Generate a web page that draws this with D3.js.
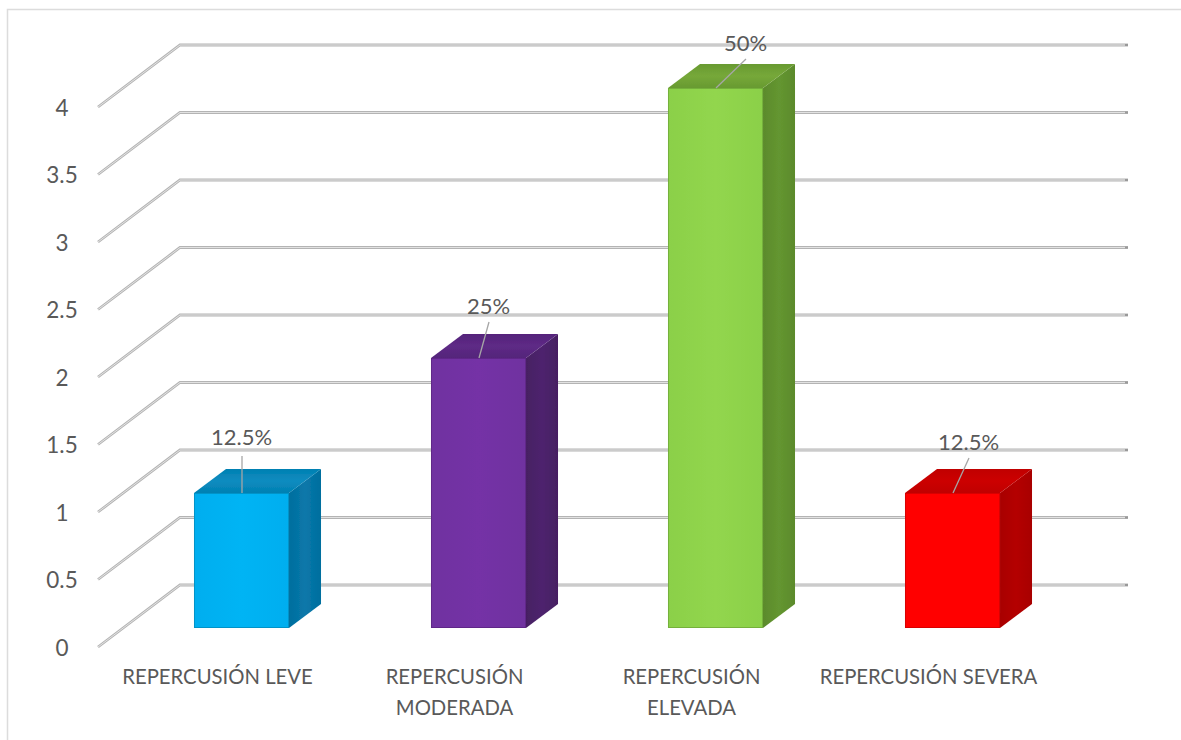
<!DOCTYPE html>
<html><head><meta charset="utf-8">
<script src="https://cdn.jsdelivr.net/npm/d3@7/dist/d3.min.js"></script>
<style>html,body{margin:0;padding:0;background:#fff}svg{display:block}text{font-family:Lato,"Open Sans",sans-serif;fill:#595959}</style>
</head><body><svg id="c" width="1181" height="740"></svg>
<script>
const categories = ["REPERCUSIÓN LEVE","REPERCUSIÓN MODERADA","REPERCUSIÓN ELEVADA","REPERCUSIÓN SEVERA"];
const values = [1,2,4,1];
const pctLabels = ["12.5%","25%","50%","12.5%"];
const yTicks = [0,0.5,1,1.5,2,2.5,3,3.5,4];
const faceColors = [
 {front:"#00aeef",light:"#04b4f4",edge:"#0493c8",side:"#006e9e",sideL:"#0a78aa",top:"#0380b2",topL:"#0b8cc0"},
 {front:"#7030a0",light:"#7432a6",edge:"#5f2888",side:"#461f62",sideL:"#4e246e",top:"#54247a",topL:"#5e2a86"},
 {front:"#8bd048",light:"#92d64e",edge:"#74b03a",side:"#5b8a2c",sideL:"#649630",top:"#689a30",topL:"#76a83a"},
 {front:"#ff0000",light:"#ff0000",edge:"#d80000",side:"#a80000",sideL:"#b40000",top:"#c00000",topL:"#cc0000"}];
const leaderEnds = [[0,-37],[10,-36],[30,-29],[16,-35]];
const labelNudge = [[-1,-3],[-1,0],[-1,0],[-1,0]];

const svg = d3.select("#c");
const W=1181;
svg.append("path").attr("d",`M7.5,740V9.5H${W}`).attr("fill","none").attr("stroke","#dcdcdc").attr("stroke-width",1.5);

const yBack = d3.scaleLinear().domain([0,4]).range([585,45]);
const yFront = d3.scaleLinear().domain([0,4]).range([647,107]);
const yBar = d3.scaleLinear().domain([0,4]).range([628,88]);
const x = d3.scaleBand().domain(categories).range([123,1071]).paddingInner(0.599).paddingOuter(0.2995);
const depthX=32, depthY=24;

const defs=svg.append("defs");
const blur=defs.append("filter").attr("id","soft").attr("x","-5%").attr("y","-5%").attr("width","110%").attr("height","110%");
blur.append("feGaussianBlur").attr("stdDeviation",0.5);
function grad(id,a,b,dir){
  const gr=defs.append("linearGradient").attr("id",id);
  if(dir==="v") gr.attr("x1",0).attr("y1",0).attr("x2",0).attr("y2",1);
  gr.append("stop").attr("offset","0").attr("stop-color",a);
  gr.append("stop").attr("offset","0.5").attr("stop-color",b);
  gr.append("stop").attr("offset","1").attr("stop-color",a);
}

const grid=svg.append("g").attr("filter","url(#soft)");
yTicks.forEach(t=>{
  const p=`M98,${yFront(t)}L180,${yBack(t)}H1128`;
  grid.append("path").attr("d",p).attr("fill","none").attr("stroke","#b4b4b4").attr("stroke-width",2.8);
  grid.append("path").attr("d",p).attr("fill","none").attr("stroke","#e8e8e8").attr("stroke-width",0.9);
  grid.append("rect").attr("x",1125).attr("y",yBack(t)-1).attr("width",3).attr("height",2).attr("fill","#999");
});

const axL=svg.append("g").attr("transform","translate(77,1)").call(d3.axisLeft(yFront).tickValues(yTicks).tickSize(0).tickFormat(d=>String(d)));
axL.select(".domain").remove();
axL.selectAll("text").attr("font-size",22.5).attr("text-anchor","middle").attr("x",-15).attr("dy","0.33em").style("fill","#595959").style("font-family","Lato");

const g=svg.append("g").attr("filter","url(#soft)");
categories.forEach((c,i)=>{
  const x0=x(c),w=x.bandwidth(),y0=yBar(0),y1=yBar(values[i]),col=faceColors[i];
  grad("f"+i,col.front,col.light);
  grad("s"+i,col.side,col.sideL);
  grad("t"+i,col.top,col.topL,"v");
  g.append("path").attr("d",`M${x0+w},${y1}l${depthX},${-depthY}V${y0-depthY}l${-depthX},${depthY}Z`).attr("fill",`url(#s${i})`);
  g.append("path").attr("d",`M${x0},${y1}l${depthX},${-depthY}H${x0+w+depthX}l${-depthX},${depthY}Z`).attr("fill",`url(#t${i})`);
  g.append("rect").attr("x",x0+.5).attr("y",y1+.5).attr("width",w-1).attr("height",y0-y1-1).attr("fill",`url(#f${i})`).attr("stroke",col.edge).attr("stroke-width",1);
  const cx=x0+w/2, [dx,dy]=leaderEnds[i], [nx,ny]=labelNudge[i];
  svg.append("line").attr("x1",cx+0.5).attr("y1",y1).attr("x2",cx+dx+0.5).attr("y2",y1+dy).attr("stroke","#a6a6a6").attr("stroke-width",1.3);
  svg.append("text").attr("x",cx+dx+nx+1).attr("y",y1+dy-8+ny).attr("text-anchor","middle").attr("font-size",22).text(pctLabels[i]);
});

const axB=svg.append("g").attr("transform","translate(-24,668)").call(d3.axisBottom(x).tickSize(0));
axB.select(".domain").remove();
axB.selectAll("text").each(function(d){
  const t=d3.select(this).text(null).attr("y",0).attr("dy",null).attr("font-size",20.3).style("fill","#595959").style("font-family","Lato");
  const lines=(d==="REPERCUSIÓN MODERADA"||d==="REPERCUSIÓN ELEVADA")?d.split(" "):[d];
  lines.forEach((l,k)=>t.append("tspan").attr("x",0).attr("y",16+k*31).text(l));
});
</script></body></html>
